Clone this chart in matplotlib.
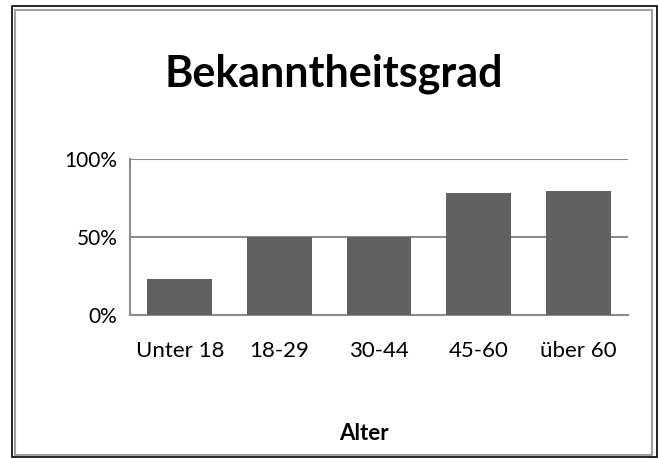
import matplotlib.pyplot as plt
from matplotlib.patches import Rectangle
from matplotlib.ticker import PercentFormatter

# data
categories = ['Unter 18', '18-29', '30-44', '45-60', 'über 60']
values = [0.23, 0.50, 0.50, 0.78, 0.795]
yticks = [0, 0.5, 1.0]

W, H = 658, 458
fig = plt.figure(figsize=(W / 100, H / 100), dpi=100)
plt.rcParams['font.family'] = ['Lato', 'DejaVu Sans']

# outer frames (black + gray)
fig.patches.append(Rectangle((12 / W, 1 / H), 645 / W, 451 / H, transform=fig.transFigure,
                             fill=False, edgecolor='black', linewidth=1.2))
fig.patches.append(Rectangle((15 / W, 3 / H), 637 / W, 445 / H, transform=fig.transFigure,
                             fill=False, edgecolor='#a0a0a0', linewidth=1.5))

ax = fig.add_axes([130 / W, 143 / H, 498 / W, 156 / H])
x = range(len(categories))
ax.bar(x, values, width=0.65, color='#616161', zorder=3)

ax.set_xlim(-0.5, len(categories) - 0.5)
ax.set_ylim(0, 1)
ax.set_yticks(yticks)
ax.yaxis.set_major_formatter(PercentFormatter(1.0, decimals=0))
ax.set_xticks(list(x))
ax.set_xticklabels(categories)
ax.tick_params(length=0, labelsize=15, colors='black')
ax.tick_params(axis='x', labelsize=16, pad=19)
ax.tick_params(axis='y', pad=9)
ax.grid(axis='y', color='#8c8c8c', linewidth=1.5, zorder=0)

for s in ['top', 'right']:
    ax.spines[s].set_visible(False)
ax.spines['left'].set_color('#8c8c8c')
ax.spines['left'].set_linewidth(1.5)
ax.spines['bottom'].set_color('#8c8c8c')
ax.spines['bottom'].set_linewidth(1.5)

fig.text(334 / W, 1 - 74 / H, 'Bekanntheitsgrad', ha='center', va='center',
         fontsize=31, fontweight='bold')
fig.text(364 / W, 1 - 433 / H, 'Alter', ha='center', va='center',
         fontsize=16, fontweight='bold')

fig.savefig('out.png', dpi=100)
